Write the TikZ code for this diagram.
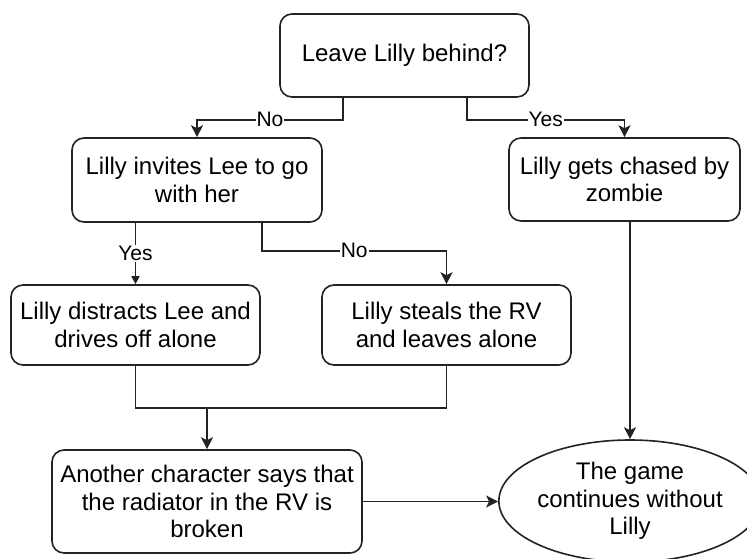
\documentclass[tikz,border=0pt]{standalone}
\usepackage{fontspec}
\setmainfont{Liberation Sans}
\usetikzlibrary{shapes.geometric, arrows.meta}
\definecolor{edgegray}{RGB}{35,35,35}

\begin{document}
\begin{tikzpicture}[
  x=1pt, y=-1pt,
  box/.style={rectangle, rounded corners=12pt, draw=edgegray, fill=white, line width=1.6pt, align=center, inner sep=2pt, font=\fontsize{24}{27.5}\selectfont},
  endnode/.style={ellipse, draw=edgegray, fill=white, line width=1.6pt, align=center, inner sep=0pt, minimum width=250pt, minimum height=122pt, font=\fontsize{24}{27.5}\selectfont},
  arrow/.style={-{Stealth[length=12pt, width=12pt, inset=3pt]}, line width=1.6pt, edgegray},
  smallarrow/.style={-{Triangle[length=8pt, width=8pt]}, line width=1.6pt, edgegray},
  lbl/.style={fill=white, text=black, inner sep=1pt, font=\fontsize{21}{23}\selectfont},
]
  \useasboundingbox (0,0) rectangle (747,559);

  \node[box, minimum width=249pt, minimum height=83pt] (leave) at (404.5,55.5) {Leave Lilly behind?};
  \node[box, minimum width=250pt, minimum height=84pt] (invites) at (197,180) {Lilly invites Lee to go\\with her};
  \node[box, minimum width=231pt, minimum height=83pt] (chased) at (624.5,179.5) {Lilly gets chased by\\zombie};
  \node[box, minimum width=249pt, minimum height=80pt] (distracts) at (135.5,325) {Lilly distracts Lee and\\drives off alone};
  \node[box, minimum width=249pt, minimum height=80pt] (steals) at (446.5,325) {Lilly steals the RV\\and leaves alone};
  \node[box, minimum width=310pt, minimum height=103pt] (another) at (207,501.5) {Another character says that\\the radiator in the RV is\\broken};
  \node[endnode] (game) at (630,501) {The game\\continues without\\Lilly};

  \draw[arrow] ([xshift=-61.5pt]leave.south) -- ++(0,22) -| node[lbl, pos=0.25] {No} (invites.north);
  \draw[arrow] ([xshift=62.5pt]leave.south) -- ++(0,22) -| node[lbl, pos=0.25] {Yes} (chased.north);
  \draw[smallarrow] (invites.south -| distracts.north) -- node[lbl] {Yes} (distracts.north);
  \draw[arrow] ([xshift=65pt]invites.south) -- ++(0,28) -| node[lbl, pos=0.25] {No} (steals.north);
  \draw[line width=1.6pt, edgegray] (distracts.south) -- ++(0,42) coordinate (merge) -| (steals.south);
  \draw[arrow] (merge -| another.north) -- (another.north);
  \draw[arrow] (chased.south -| game.north) -- (game.north);
  \draw[arrow] (another.east) -- (another.east -| game.west);
\end{tikzpicture}
\end{document}
